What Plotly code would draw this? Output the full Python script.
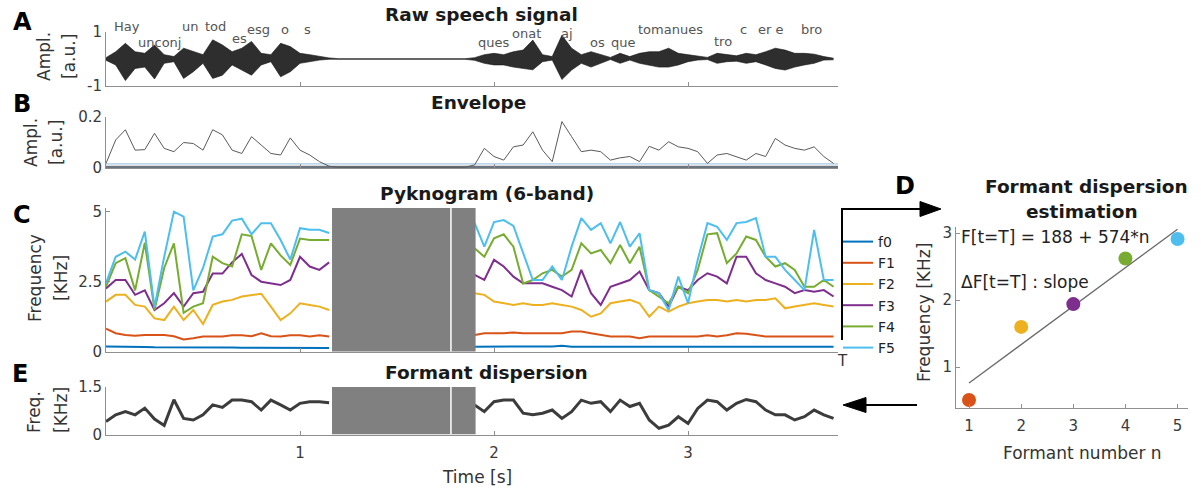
import numpy as np
import plotly.graph_objects as go

W, H = 1201, 490
FONT = "DejaVu Sans"

# ---------------- data ----------------
time_s = np.round(np.arange(76) * 0.05, 2)          # 0.00 .. 3.75 s sampling grid
t_end = 3.773
tick_times = [1, 2, 3]
gap_start, gap_end, gap_split = 1.165, 1.905, 1.778   # masked (grey) interval
N_GAP = 14

# Panel A : raw speech waveform, upper / lower excursion (a.u.)
wave_upper = ([0.05, 0.27, 0.58, 0.27, 0.21, 0.52, 0.16, 0.09, 0.40, 0.27, 0.16, 0.71,
               0.52, 0.27, 0.40, 0.65, 0.21, 0.16, 0.58, 0.46, 0.21, 0.16, 0.09, 0.04]
              + [0.01] * N_GAP +
              [0.05, 0.16, 0.21, 0.16, 0.27, 0.33, 0.70, 0.16, 0.09, 0.88, 0.40, 0.16, 0.27,
               0.16, 0.06, 0.21, 0.09, 0.21, 0.27, 0.27, 0.40, 0.21, 0.16, 0.09, 0.06, 0.21,
               0.16, 0.12, 0.21, 0.16, 0.27, 0.40, 0.33, 0.21, 0.21, 0.18, 0.09, 0.03])
wave_lower = ([-0.05, -0.22, -0.80, -0.35, -0.30, -0.74, -0.16, -0.10, -0.72, -0.47, -0.16, -0.72,
               -0.60, -0.22, -0.41, -0.60, -0.22, -0.10, -0.66, -0.47, -0.16, -0.10, -0.04, -0.01]
              + [-0.01] * N_GAP +
              [-0.05, -0.16, -0.22, -0.22, -0.30, -0.35, -0.40, -0.10, -0.04, -0.76, -0.41, -0.16,
               -0.30, -0.16, -0.02, -0.16, -0.04, -0.16, -0.22, -0.30, -0.30, -0.22, -0.10, -0.04,
               -0.02, -0.16, -0.10, -0.08, -0.16, -0.10, -0.22, -0.35, -0.41, -0.30, -0.22, -0.16,
               -0.04, -0.03])

# Panel B : envelope (a.u.)
envelope = ([0.018, 0.110, 0.150, 0.070, 0.072, 0.136, 0.077, 0.064, 0.100, 0.096, 0.070, 0.150,
             0.130, 0.070, 0.057, 0.123, 0.090, 0.057, 0.051, 0.118, 0.070, 0.051, 0.025, 0.007]
            + [0.003] * N_GAP +
            [0.012, 0.077, 0.045, 0.031, 0.083, 0.090, 0.142, 0.070, 0.025, 0.182, 0.123, 0.064,
             0.070, 0.064, 0.031, 0.040, 0.045, 0.025, 0.085, 0.070, 0.103, 0.083, 0.077, 0.064,
             0.018, 0.051, 0.057, 0.045, 0.031, 0.057, 0.045, 0.116, 0.090, 0.077, 0.070, 0.083,
             0.045, 0.018])
envelope_floor = 0.016

# Panel C : pyknogram formant tracks (kHz)
f0 = ([0.20, 0.20, 0.19, 0.18, 0.18, 0.17, 0.17, 0.17, 0.18, 0.17, 0.16, 0.16,
       0.16, 0.16, 0.15, 0.15, 0.16, 0.15, 0.15, 0.14, 0.14, 0.14, 0.14, 0.14]
      + [None] * N_GAP +
      [0.19, 0.19, 0.20, 0.19, 0.19, 0.20, 0.19, 0.19, 0.20, 0.22, 0.19, 0.19, 0.19,
       0.20, 0.19, 0.19, 0.19, 0.18, 0.19, 0.19, 0.19, 0.19, 0.20, 0.19, 0.19, 0.19,
       0.20, 0.19, 0.19, 0.19, 0.19, 0.19, 0.20, 0.19, 0.19, 0.19, 0.19, 0.19])
F1 = ([0.83, 0.67, 0.61, 0.58, 0.61, 0.62, 0.61, 0.56, 0.45, 0.49, 0.55, 0.55,
       0.55, 0.60, 0.60, 0.56, 0.67, 0.56, 0.55, 0.60, 0.60, 0.55, 0.60, 0.55]
      + [None] * N_GAP +
      [0.61, 0.67, 0.67, 0.67, 0.70, 0.67, 0.67, 0.67, 0.67, 0.67, 0.73, 0.73, 0.67,
       0.61, 0.55, 0.55, 0.55, 0.49, 0.55, 0.55, 0.55, 0.55, 0.55, 0.55, 0.60, 0.55,
       0.60, 0.67, 0.65, 0.61, 0.55, 0.55, 0.55, 0.55, 0.55, 0.55, 0.55, 0.55])
F2 = ([1.80, 2.04, 2.04, 1.68, 1.62, 1.20, 1.14, 1.62, 1.14, 1.50, 1.00, 1.68,
       1.80, 1.86, 1.98, 2.04, 2.08, 1.62, 1.14, 1.38, 1.74, 1.68, 1.62, 1.50]
      + [None] * N_GAP +
      [2.10, 2.04, 1.80, 1.74, 1.68, 1.74, 1.68, 1.68, 1.74, 1.68, 1.62, 1.50, 1.26,
       1.38, 1.74, 1.80, 1.86, 1.74, 1.26, 1.62, 1.44, 1.62, 1.74, 1.80, 1.86, 1.86,
       1.80, 1.86, 1.80, 1.86, 1.86, 1.92, 1.56, 1.62, 1.68, 1.74, 1.68, 1.62])
F3 = ([2.27, 2.57, 2.57, 2.04, 2.20, 1.50, 1.74, 2.10, 1.62, 2.10, 2.15, 2.80,
       2.80, 3.20, 3.50, 2.75, 2.51, 2.45, 2.39, 2.57, 3.40, 3.05, 2.93, 3.20]
      + [None] * N_GAP +
      [2.75, 2.57, 3.29, 3.05, 2.69, 2.45, 2.45, 2.45, 2.33, 2.21, 1.98, 2.93, 2.10,
       1.68, 2.33, 2.45, 2.57, 2.87, 2.21, 2.10, 1.62, 2.33, 2.21, 2.57, 2.81, 2.69,
       2.45, 3.40, 3.40, 2.81, 2.57, 2.45, 2.33, 2.10, 2.21, 2.15, 2.21, 1.98])
F4 = ([2.33, 3.17, 3.35, 2.20, 3.90, 1.50, 3.00, 3.88, 1.40, 1.62, 1.74, 3.40,
       3.17, 3.05, 4.20, 4.14, 2.93, 3.88, 3.45, 3.11, 4.05, 4.00, 4.00, 4.00]
      + [None] * N_GAP +
      [3.70, 3.40, 4.06, 4.20, 3.76, 2.45, 2.57, 2.81, 2.93, 2.69, 2.93, 3.88, 3.52,
       3.64, 3.17, 3.82, 3.17, 3.76, 2.21, 1.98, 1.74, 2.33, 2.10, 2.93, 4.20, 4.24,
       3.17, 3.52, 4.12, 4.00, 3.40, 3.05, 3.17, 2.93, 2.33, 2.33, 2.57, 2.33])
F5 = ([2.46, 3.40, 3.58, 3.30, 4.30, 1.60, 3.40, 5.01, 4.83, 2.20, 3.00, 4.12,
       4.20, 4.69, 4.76, 4.20, 4.60, 4.60, 4.00, 3.30, 4.42, 4.36, 4.36, 4.25]
      + [None] * N_GAP +
      [4.60, 3.76, 4.64, 4.71, 4.50, 3.50, 2.57, 2.57, 3.05, 2.57, 3.76, 4.78, 4.36,
       4.60, 3.88, 4.64, 3.76, 4.24, 2.21, 2.10, 1.50, 2.69, 1.74, 3.29, 4.60, 4.47,
       4.00, 4.60, 4.64, 4.78, 3.40, 3.40, 2.93, 2.57, 2.21, 4.36, 2.57, 2.57])

# Panel E : formant dispersion (kHz)
dispersion = ([0.42, 0.63, 0.73, 0.63, 0.84, 0.50, 0.30, 1.10, 0.52, 0.47, 0.63, 0.94,
               0.86, 1.09, 1.09, 1.04, 0.78, 1.09, 0.94, 0.78, 0.99, 1.04, 1.04, 1.01]
              + [None] * N_GAP +
              [0.94, 0.73, 1.04, 1.09, 1.09, 0.68, 0.63, 0.68, 0.78, 0.52, 0.73, 1.09, 0.99,
               1.04, 0.73, 1.09, 0.89, 0.99, 0.47, 0.21, 0.31, 0.57, 0.36, 0.83, 1.09, 1.04,
               0.78, 0.99, 1.11, 1.04, 0.78, 0.63, 0.63, 0.47, 0.57, 0.78, 0.63, 0.52])

# Panel D : formant frequencies at t = T and linear fit
formant_n = [1, 2, 3, 4, 5]
formant_T_khz = [0.51, 1.60, 1.94, 2.62, 2.91]
fit_intercept_hz = 188
fit_slope_hz = 574

series_names = ["f0", "F1", "F2", "F3", "F4", "F5"]
series_colors = ["#0072BD", "#D95319", "#EDB120", "#7E2F8E", "#77AC30", "#4DBEEE"]

# speech transcription labels (word, time in s, label row y in px)
speech_words = [("Hay", 0.108, 27), ("unconj", 0.278, 42), ("un", 0.433, 27), ("tod", 0.567, 27),
                ("es", 0.686, 39), ("esg", 0.784, 29), ("o", 0.923, 29), ("s", 1.041, 29),
                ("ques", 1.995, 42), ("onat", 2.170, 33), ("aj", 2.376, 33), ("os", 2.536, 42),
                ("que", 2.670, 42), ("tomanues", 2.912, 30), ("tro", 3.180, 41), ("c", 3.284, 30),
                ("er e", 3.423, 30), ("bro", 3.639, 30)]

# ---------------- helpers ----------------
def fx(px):
    return px / W


def fy(py):
    return 1 - py / H


fig = go.Figure()

# Panel A
fig.add_trace(go.Scatter(x=time_s, y=wave_upper, mode="lines", line=dict(color="#111", width=0.6),
                         xaxis="x", yaxis="y", showlegend=False, hoverinfo="skip"))
fig.add_trace(go.Scatter(x=time_s, y=wave_lower, mode="lines", line=dict(color="#111", width=0.6),
                         fill="tonexty", fillcolor="rgba(0,0,0,0.82)",
                         xaxis="x", yaxis="y", showlegend=False, hoverinfo="skip"))

# Panel B
fig.add_trace(go.Scatter(x=[0, t_end], y=[0, 0], mode="lines", line=dict(color="#6b757f", width=4.5),
                         xaxis="x2", yaxis="y2", showlegend=False, hoverinfo="skip"))
fig.add_trace(go.Scatter(x=[0, t_end], y=[envelope_floor, envelope_floor], mode="lines",
                         line=dict(color="#a9c8e2", width=1.2),
                         xaxis="x2", yaxis="y2", showlegend=False, hoverinfo="skip"))
fig.add_trace(go.Scatter(x=time_s, y=envelope, mode="lines", line=dict(color="#5a5a5a", width=1),
                         xaxis="x2", yaxis="y2", showlegend=False))

# Panel C
for name, col, vals in zip(series_names, series_colors, [f0, F1, F2, F3, F4, F5]):
    fig.add_trace(go.Scatter(x=time_s, y=vals, mode="lines", name=name,
                             line=dict(color=col, width=2), xaxis="x3", yaxis="y3"))

# Panel E
fig.add_trace(go.Scatter(x=time_s, y=dispersion, mode="lines", line=dict(color="#3c3c3c", width=3),
                         xaxis="x4", yaxis="y4", showlegend=False))

# Panel D
fit_x = [formant_n[0], formant_n[-1]]
fit_y = [(fit_intercept_hz + fit_slope_hz * n) / 1000 for n in fit_x]
fig.add_trace(go.Scatter(x=fit_x, y=fit_y, mode="lines", line=dict(color="#6a6a6a", width=1.3),
                         xaxis="x5", yaxis="y5", showlegend=False))
fig.add_trace(go.Scatter(x=formant_n, y=formant_T_khz, mode="markers",
                         marker=dict(size=14, color=series_colors[1:]),
                         xaxis="x5", yaxis="y5", showlegend=False))

# ---------------- axes ----------------
axcol = "#8f8f8f"
common = dict(showline=True, linecolor=axcol, linewidth=1, ticks="inside", ticklen=4,
              tickcolor=axcol, showgrid=False, zeroline=False, mirror=False, automargin=False,
              tickfont=dict(family=FONT, size=15, color="#3a3a3a"))
xdom = [fx(106), fx(838)]
xt = dict(range=[0, t_end], tickvals=tick_times, ticktext=[str(v) for v in tick_times])

layout = dict(
    template="none",
    width=W, height=H, autosize=False,
    margin=dict(l=0, r=0, t=0, b=0, pad=0),
    paper_bgcolor="white", plot_bgcolor="white",
    font=dict(family=FONT, color="#333333"),
    xaxis=dict(**common, **xt, domain=xdom, anchor="y", showticklabels=False),
    yaxis=dict(**common, domain=[fy(86), fy(32)], anchor="x", range=[-1, 1],
               tickvals=[-1, 1], ticktext=["-1", "1"]),
    xaxis2=dict(**common, **xt, domain=xdom, anchor="y2", showticklabels=False),
    yaxis2=dict(**common, domain=[fy(168), fy(117)], anchor="x2", range=[0, 0.2],
                tickvals=[0, 0.2], ticktext=["0", "0.2"]),
    xaxis3=dict(**common, **xt, domain=xdom, anchor="y3", showticklabels=False),
    yaxis3=dict(**common, domain=[fy(352), fy(208)], anchor="x3", range=[0, 5.14],
                tickvals=[0, 2.5, 5], ticktext=["0", "2.5", "5"]),
    xaxis4=dict(**common, **xt, domain=xdom, anchor="y4", showticklabels=True, ticklabelstandoff=4),
    yaxis4=dict(**common, domain=[fy(435), fy(387)], anchor="x4", range=[0, 1.5],
                tickvals=[0, 1.5], ticktext=["0", "1.5"]),
    xaxis5=dict(**common, domain=[fx(956), fx(1188)], anchor="y5", range=[0.75, 5.2],
                tickvals=formant_n, ticktext=[str(n) for n in formant_n], ticklabelstandoff=4),
    yaxis5=dict(**common, domain=[fy(408), fy(227)], anchor="x5", range=[0.39, 3.09],
                tickvals=[1, 2, 3], ticktext=["1", "2", "3"]),
    legend=dict(x=fx(838), y=fy(226), xanchor="left", yanchor="top", bgcolor="rgba(0,0,0,0)",
                traceorder="normal",
                font=dict(family=FONT, size=14, color="#222"), itemwidth=30, borderwidth=0),
)
fig.update_layout(**layout)

# ---------------- masked interval (grey boxes) ----------------
shapes = []
for xa, ya, ytop in [("x3", "y3", 5.14), ("x4", "y4", 1.5)]:
    shapes.append(dict(type="rect", xref=xa, yref=ya, x0=gap_start, x1=gap_end, y0=0.02, y1=ytop,
                       fillcolor="#808080", line=dict(width=0), layer="above"))
    shapes.append(dict(type="line", xref=xa, yref=ya, x0=gap_split, x1=gap_split, y0=0.02, y1=ytop,
                       line=dict(color="white", width=1.5), layer="above"))

# arrows linking panel C -> D -> E
def path(points, closed=False):
    s = "M " + " L ".join(f"{fx(a):.5f},{fy(b):.5f}" for a, b in points)
    return s + (" Z" if closed else "")

shapes.append(dict(type="path", xref="paper", yref="paper",
                   path=path([(842, 340), (842, 209), (922, 209)]),
                   line=dict(color="black", width=2)))
shapes.append(dict(type="path", xref="paper", yref="paper",
                   path=path([(941, 209), (920, 201.5), (920, 216.5)], closed=True),
                   fillcolor="black", line=dict(color="black", width=1)))
shapes.append(dict(type="path", xref="paper", yref="paper",
                   path=path([(917, 405), (864, 405)]),
                   line=dict(color="black", width=2)))
shapes.append(dict(type="path", xref="paper", yref="paper",
                   path=path([(843, 405), (866, 397.5), (866, 412.5)], closed=True),
                   fillcolor="black", line=dict(color="black", width=1)))
fig.update_layout(shapes=shapes)

# ---------------- texts ----------------
ann = []

def text(s, x, y, size=15, bold=False, color="#333333", angle=0, xanchor="center", yanchor="middle"):
    ann.append(dict(text=f"<b>{s}</b>" if bold else s, x=fx(x), y=fy(y), xref="paper", yref="paper",
                    showarrow=False, xanchor=xanchor, yanchor=yanchor, textangle=angle, borderpad=0,
                    font=dict(family=FONT, size=size, color=color)))

# panel letters
for letter, x, y in [("A", 22, 22), ("B", 22, 104), ("C", 22, 215), ("E", 20, 374), ("D", 905, 186)]:
    text(letter, x, y, size=24, bold=True, color="black")

# panel titles
text("Raw speech signal", 481, 14, size=18.5, bold=True, color="#1a1a1a")
text("Envelope", 478, 102, size=18.5, bold=True, color="#1a1a1a")
text("Pyknogram (6-band)", 487, 193, size=18.5, bold=True, color="#1a1a1a")
text("Formant dispersion", 486, 372, size=18.5, bold=True, color="#1a1a1a")
text("Formant dispersion", 1086, 186, size=18.5, bold=True, color="#1a1a1a")
text("estimation", 1082, 211, size=18.5, bold=True, color="#1a1a1a")

# y axis titles
text("Ampl.", 44, 57, size=17, angle=-90)
text("[a.u.]", 69, 57, size=17, angle=-90)
text("Ampl.", 31, 143, size=17, angle=-90)
text("[a.u.]", 56, 143, size=17, angle=-90)
text("Frequency", 35, 278, size=17, angle=-90)
text("[KHz]", 61, 278, size=17, angle=-90)
text("Freq.", 34, 412, size=17, angle=-90)
text("[KHz]", 61, 410, size=17, angle=-90)
text("Frequency [KHz]", 924, 312, size=17, angle=-90)

# x axis titles
text("Time [s]", 477, 477, size=17)
text("Formant number n", 1082, 453, size=17)

# panel D annotations
text("F[t=T] = 188 + 574*n", 960, 237, size=17, xanchor="left", color="#222")
text("ΔF[t=T] : slope", 960, 282, size=17, xanchor="left", color="#222")

# "T" marker
text("T", 842, 361, size=15, color="#333")

# speech words
for w, t, yrow in speech_words:
    text(w, 106 + 194 * t, yrow, size=13, color="#555555")

fig.update_layout(annotations=ann)

fig.write_html(
    "out.html",
    config={"displayModeBar": False},
    post_script="document.body.style.margin='0';document.body.style.overflow='hidden';",
)
